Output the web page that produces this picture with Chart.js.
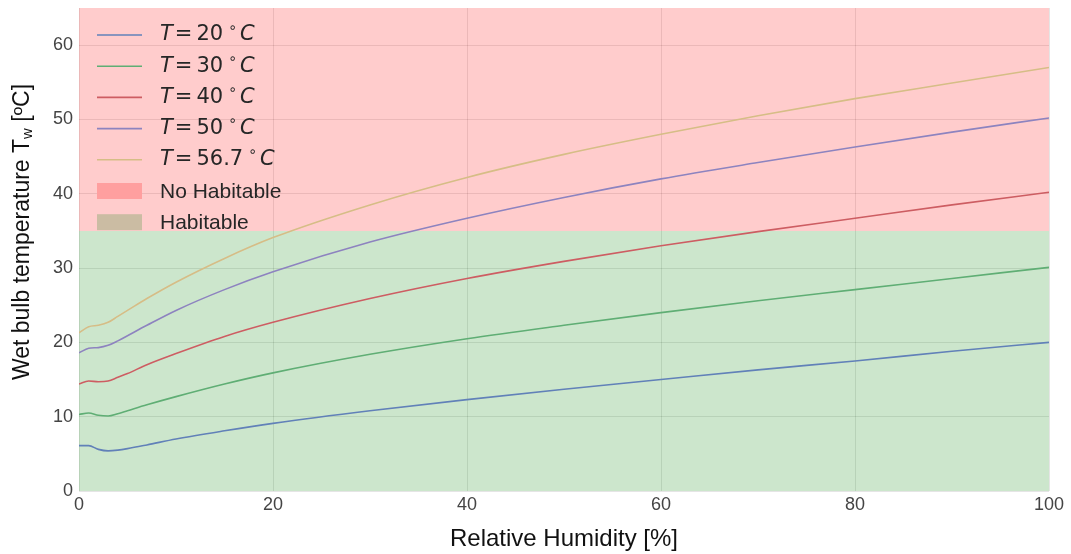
<!DOCTYPE html>
<html>
<head>
<meta charset="utf-8">
<script src="https://cdn.jsdelivr.net/npm/chart.js@4.4.1/dist/chart.umd.min.js"></script>
<style>
  html, body { margin: 0; padding: 0; background: #fff; }
  #wrap { width: 1071px; height: 554px; }
</style>
</head>
<body>
<div id="wrap"><canvas id="chartCanvas" width="1071" height="554"></canvas></div>
<script>
// relative humidity [%]
const humidity = [0, 1, 2, 3, 4, 5, 7, 10, 15, 20, 30, 40, 50, 60, 70, 80, 90, 100];

// wet bulb temperature [ºC]
const tw20 = [6.1, 6.1, 5.6, 5.4, 5.5, 5.7, 6.2, 7.0, 8.1, 9.1, 10.8, 12.3, 13.7, 15.0, 16.3, 17.5, 18.8, 20.0];
const tw30 = [10.3, 10.5, 10.2, 10.1, 10.4, 10.8, 11.6, 12.7, 14.4, 15.9, 18.4, 20.5, 22.3, 24.0, 25.6, 27.1, 28.6, 30.1];
const tw40 = [14.4, 14.8, 14.7, 14.8, 15.3, 15.8, 17.0, 18.5, 20.8, 22.7, 25.9, 28.6, 30.9, 33.0, 34.9, 36.7, 38.5, 40.2];
const tw50 = [18.6, 19.2, 19.3, 19.6, 20.2, 20.9, 22.3, 24.3, 27.1, 29.5, 33.5, 36.7, 39.5, 42.0, 44.2, 46.3, 48.3, 50.2];
const tw567 = [21.3, 22.1, 22.3, 22.7, 23.5, 24.3, 25.9, 28.1, 31.3, 34.1, 38.5, 42.2, 45.3, 48.0, 50.5, 52.8, 54.9, 57.0];

const seriesTemps = ['20', '30', '40', '50', '56.7'];
const seriesValues = [tw20, tw30, tw40, tw50, tw567];
const seriesColors = ['#6181b8', '#5fae74', '#cd5d62', '#8d83bf', '#d6bd86'];

// habitable limit and top of the plot
const zoneX = [0, 100];
const habitableLimit = 35;
const yTop = 65;

function toPoints(xs, ys) {
    return xs.map((x, i) => ({ x: x, y: ys[i] }));
}

const datasets = [
    {
        label: 'Habitable',
        data: zoneX.map(x => ({ x: x, y: habitableLimit })),
        borderWidth: 0,
        pointRadius: 0,
        fill: 'origin',
        order: 10,
        backgroundColor: 'rgba(0,128,0,0.2)'
    },
    {
        label: 'No Habitable',
        data: zoneX.map(x => ({ x: x, y: yTop })),
        borderWidth: 0,
        pointRadius: 0,
        fill: '-1',
        order: 10,
        backgroundColor: 'rgba(255,0,0,0.2)'
    }
];

seriesValues.forEach((vals, i) => {
    datasets.push({
        label: 'T = ' + seriesTemps[i] + ' °C',
        data: toPoints(humidity, vals),
        borderColor: seriesColors[i],
        borderWidth: 1.6,
        pointRadius: 0,
        fill: false,
        order: 1,
        cubicInterpolationMode: 'monotone'
    });
});

// y axis title with subscript w
const yTitlePlugin = {
    id: 'yTitle',
    afterDraw(chart) {
        const ctx = chart.ctx;
        const parts = [
            { t: 'Wet bulb temperature T', f: '23px "Liberation Sans", Arial, sans-serif', dy: 0 },
            { t: 'w', f: '15px "Liberation Sans", Arial, sans-serif', dy: 5 },
            { t: ' [ºC]', f: '23px "Liberation Sans", Arial, sans-serif', dy: 0 }
        ];
        ctx.save();
        let total = 0;
        parts.forEach(p => { ctx.font = p.f; p.w = ctx.measureText(p.t).width; total += p.w; });
        ctx.translate(22, 232);
        ctx.rotate(-Math.PI / 2);
        ctx.fillStyle = '#111';
        ctx.textBaseline = 'middle';
        let x = -total / 2;
        parts.forEach(p => {
            ctx.font = p.f;
            ctx.fillText(p.t, x, p.dy + 1);
            x += p.w;
        });
        ctx.restore();
    }
};

// legend drawn inside the plot, top left
const legendPlugin = {
    id: 'innerLegend',
    afterDatasetsDraw(chart) {
        const ctx = chart.ctx;
        const x0 = 97, x1 = 142, tx = 160;
        let y = 35;
        const step = 31.2;
        const mathFont = '21px "DejaVu Sans", sans-serif';
        const mathItalic = 'italic 21px "DejaVu Sans", sans-serif';
        ctx.save();
        ctx.textBaseline = 'middle';
        seriesTemps.forEach((temp, i) => {
            ctx.strokeStyle = seriesColors[i];
            ctx.lineWidth = 1.6;
            ctx.beginPath();
            ctx.moveTo(x0, y);
            ctx.lineTo(x1, y);
            ctx.stroke();
            ctx.fillStyle = '#262626';
            const pieces = [
                { t: 'T', f: mathItalic, gap: 2, dy: 0 },
                { t: '=', f: mathFont, gap: 4, dy: 0 },
                { t: temp, f: mathFont, gap: 5, dy: 0 },
                { t: '∘', f: '14px "DejaVu Sans", sans-serif', gap: 3, dy: -7 },
                { t: 'C', f: mathItalic, gap: 0, dy: 0 }
            ];
            let x = tx;
            pieces.forEach(p => {
                ctx.font = p.f;
                ctx.fillText(p.t, x, y + p.dy);
                x += ctx.measureText(p.t).width + p.gap;
            });
            y += step;
        });
        const patches = [
            { label: 'No Habitable', color: '#ff9f9f' },
            { label: 'Habitable', color: '#cbbca3' }
        ];
        patches.forEach(p => {
            ctx.fillStyle = p.color;
            ctx.fillRect(x0, y - 8, x1 - x0, 16);
            ctx.fillStyle = '#262626';
            ctx.font = '21px "Liberation Sans", Arial, sans-serif';
            ctx.fillText(p.label, tx, y + 1);
            y += step;
        });
        ctx.restore();
    }
};

const ctx = document.getElementById('chartCanvas').getContext('2d');
const myChart = new Chart(ctx, {
    type: 'line',
    data: { datasets: datasets },
    options: {
        responsive: false,
        animation: false,
        layout: { padding: { left: 0, right: 22, top: 8, bottom: 0 } },
        plugins: {
            legend: { display: false },
            tooltip: { enabled: false }
        },
        scales: {
            x: {
                type: 'linear',
                min: 0,
                max: 100,
                ticks: {
                    stepSize: 20,
                    padding: 3,
                    color: '#444',
                    font: { family: '"Liberation Sans", Arial, sans-serif', size: 18 }
                },
                grid: { color: 'rgba(0,0,0,0.1)', drawTicks: false },
                border: { display: false },
                title: {
                    display: true,
                    text: 'Relative Humidity [%]',
                    color: '#111',
                    font: { family: '"Liberation Sans", Arial, sans-serif', size: 24 },
                    padding: { top: 0, bottom: 0 }
                },
                afterFit(scale) { scale.height = 63; }
            },
            y: {
                min: 0,
                max: 65,
                ticks: {
                    stepSize: 10,
                    includeBounds: false,
                    padding: 6,
                    color: '#444',
                    font: { family: '"Liberation Sans", Arial, sans-serif', size: 18 }
                },
                grid: { color: 'rgba(0,0,0,0.1)', drawTicks: false },
                border: { display: false },
                afterFit(scale) {
                    scale.width = 79;
                    scale.paddingTop = 0;
                    scale.paddingBottom = 0;
                }
            }
        }
    },
    plugins: [yTitlePlugin, legendPlugin]
});
</script>
</body>
</html>
